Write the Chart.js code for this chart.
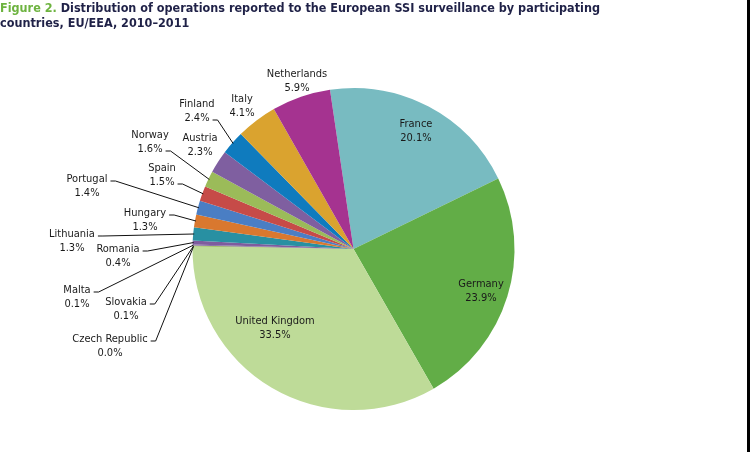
<!DOCTYPE html>
<html>
<head>
<meta charset="utf-8">
<script src="https://cdn.jsdelivr.net/npm/chart.js@4"></script>
<style>
  body { margin: 0; background: #fff; }
  canvas { display: block; }
</style>
</head>
<body>
<canvas id="ssiChart" width="750" height="452"></canvas>
<script>
//Chart data
const countries = ["France", "Germany", "United Kingdom", "Czech Republic", "Slovakia", "Malta", "Romania",
    "Lithuania", "Hungary", "Portugal", "Spain", "Norway", "Austria", "Finland", "Italy", "Netherlands"];
const shares = [20.1, 23.9, 33.5, 0.0, 0.1, 0.1, 0.4, 1.3, 1.3, 1.4, 1.5, 1.6, 2.3, 2.4, 4.1, 5.9];
const sliceColors = ["#78BBC1", "#62AD47", "#BEDB98", "#8C9A6A", "#9BBB59", "#8064A2", "#7E5C9E",
    "#2890A2", "#D9782F", "#4A7EC4", "#C64B48", "#9BBB59", "#7F5FA0", "#0F7BBE", "#DAA32F", "#A53390"];

//Label layout: text centre x, first line y, leader row (-1 = no leader, 0/1 = line it attaches to)
const labelLayout = [
    [416, 124, -1], [481, 284, -1], [275, 321, -1], [110, 339, 0], [126, 302, 0], [77, 290, 0],
    [118, 249, 0], [72, 234, 0], [145, 213, 0], [87, 179, 0], [162, 168, 1], [150, 135, 1],
    [200, 138, -1], [197, 104, 1], [242, 99, -1], [297, 74, -1]
];

const labelFont = "11px 'DejaVu Sans Condensed', 'DejaVu Sans', sans-serif";

//Draw labels with leader lines
const labelPlugin = {
    id: "sliceLabels",
    afterDatasetsDraw(chart) {
        const ctx = chart.ctx;
        const arcs = chart.getDatasetMeta(0).data;
        ctx.save();
        ctx.font = labelFont;
        ctx.textAlign = "center";
        ctx.textBaseline = "middle";
        arcs.forEach((arc, i) => {
            const [x, y, row] = labelLayout[i];
            const lines = [countries[i], shares[i].toFixed(1) + "%"];
            ctx.fillStyle = "#1a1a1a";
            ctx.fillText(lines[0], x, y);
            ctx.fillText(lines[1], x, y + 14);
            if (row >= 0) {
                const w = ctx.measureText(lines[row]).width;
                const sx = x + w / 2 + 3;
                const sy = y + row * 14 + 2;
                const mid = (arc.startAngle + arc.endAngle) / 2;
                const ex = arc.x + Math.cos(mid) * (arc.outerRadius - 1);
                const ey = arc.y + Math.sin(mid) * (arc.outerRadius - 1);
                ctx.strokeStyle = "#111";
                ctx.lineWidth = 1;
                ctx.beginPath();
                ctx.moveTo(sx, sy);
                ctx.lineTo(sx + 5, sy);
                ctx.lineTo(ex, ey);
                ctx.stroke();
            }
        });
        ctx.restore();
    }
};

//Title and right border
const framePlugin = {
    id: "frame",
    afterDraw(chart) {
        const ctx = chart.ctx;
        ctx.save();
        ctx.textBaseline = "middle";
        ctx.textAlign = "left";
        ctx.font = "bold 12.5px 'DejaVu Sans Condensed', 'DejaVu Sans', sans-serif";
        const lead = "Figure 2. ";
        const rest = "Distribution of operations reported to the European SSI surveillance by participating";
        const leadW = ctx.measureText(lead).width;
        const restW = ctx.measureText(rest).width;
        const scale = Math.min(1, 603 / (leadW + restW));
        ctx.fillStyle = "#6DB33F";
        ctx.fillText(lead, 0, 9, leadW * scale);
        ctx.fillStyle = "#1F2147";
        ctx.fillText(rest, leadW * scale, 9, restW * scale);
        const line2 = "countries, EU/EEA, 2010\u20132011";
        ctx.fillText(line2, 0, 24, ctx.measureText(line2).width * scale);
        ctx.fillStyle = "#000";
        ctx.fillRect(747, 0, 3, 452);
        ctx.restore();
    }
};

new Chart(document.getElementById("ssiChart"), {
    type: "pie",
    data: {
        labels: countries,
        datasets: [{
            data: shares,
            backgroundColor: sliceColors,
            borderWidth: 0,
            hoverOffset: 0,
            radius: 161
        }]
    },
    options: {
        responsive: false,
        animation: false,
        devicePixelRatio: 1,
        rotation: -8.4,
        layout: {padding: {top: 88, bottom: 42, left: 193, right: 236}},
        plugins: {
            legend: {display: false},
            tooltip: {enabled: false}
        }
    },
    plugins: [labelPlugin, framePlugin]
});
</script>
</body>
</html>
